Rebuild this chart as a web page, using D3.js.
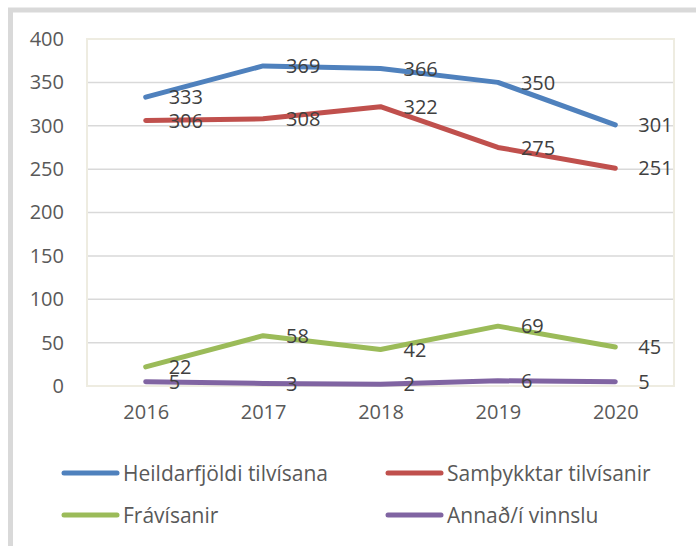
<!DOCTYPE html>
<html><head><meta charset="utf-8">
<script src="https://cdn.jsdelivr.net/npm/d3@7"></script>
<style>html,body{margin:0;padding:0;background:#fff;overflow:hidden}</style>
</head><body>
<svg id="c" width="696" height="546"></svg>
<script>
const years = ["2016","2017","2018","2019","2020"];
const heildar = [333,369,366,350,301];
const samthykktar = [306,308,322,275,251];
const fravisanir = [22,58,42,69,45];
const annad = [5,3,2,6,5];
const seriesNames = ["Heildarfjöldi tilvísana","Samþykktar tilvísanir","Frávísanir","Annað/í vinnslu"];
const yTicks = [0,50,100,150,200,250,300,350,400];
const colors = ["#4F81BD","#C0504D","#9BBB59","#8064A2"];
const series = [heildar, samthykktar, fravisanir, annad].map((v,i)=>({name:seriesNames[i], values:v, color:colors[i]}));

const svg = d3.select("#c");
const font = "'Open Sans', sans-serif";
// outer border
svg.append("rect").attr("x",10.5).attr("y",10).attr("width",720).attr("height",560)
  .attr("fill","none").attr("stroke","#d9d9d9").attr("stroke-width",5);

const L=87, R=674, T=39, B=386;
const x = d3.scalePoint().domain(years).range([L,R]).padding(0.5);
const y = d3.scaleLinear().domain([0,400]).range([B,T]);

// gridlines
svg.append("g").selectAll("line").data(yTicks.filter(t=>t>0 && t<400)).join("line")
  .attr("x1",L).attr("x2",R).attr("y1",d=>y(d)).attr("y2",d=>y(d))
  .attr("stroke","#d9d9d9").attr("stroke-width",1.5);
// plot border
svg.append("rect").attr("x",L).attr("y",T).attr("width",R-L).attr("height",B-T)
  .attr("fill","none").attr("stroke","#EEECE1").attr("stroke-width",2);

// y axis labels
const ya = svg.append("g").attr("transform",`translate(64,0)`)
  .call(d3.axisLeft(y).tickValues(yTicks).tickSize(0).tickPadding(0));
ya.select(".domain").remove();
ya.selectAll("text").attr("font-family",font).attr("font-size",20).attr("fill","#595959");

// x axis labels
const xa = svg.append("g").attr("transform",`translate(0,${B})`)
  .call(d3.axisBottom(x).tickSize(0).tickPadding(19));
xa.select(".domain").remove();
xa.selectAll("text").attr("font-family",font).attr("font-size",20).attr("fill","#595959");

const line = d3.line().x((d,i)=>x(years[i])).y(d=>y(d));
svg.append("g").selectAll("path").data(series).join("path")
  .attr("d",d=>line(d.values)).attr("fill","none").attr("stroke",d=>d.color)
  .attr("stroke-width",5).attr("stroke-linecap","round").attr("stroke-linejoin","round");

// data labels
const lg = svg.append("g");
series.forEach(s=>{
  lg.selectAll(null).data(s.values).join("text")
    .attr("x",(d,i)=>x(years[i])+23).attr("y",d=>y(d)).attr("dy","0.36em")
    .attr("font-family",font).attr("font-size",20).attr("fill","#404040").text(d=>d);
});

// legend
const legPos = [[62,473],[386,473],[62,515],[386,515]];
const leg = svg.append("g").selectAll("g").data(series).join("g")
  .attr("transform",(d,i)=>`translate(${legPos[i][0]},${legPos[i][1]})`);
leg.append("line").attr("x1",2).attr("x2",55).attr("stroke",d=>d.color).attr("stroke-width",5).attr("stroke-linecap","round");
leg.append("text").attr("x",61).attr("dy","0.36em").attr("font-family",font).attr("font-size",21)
  .attr("fill","#595959").text(d=>d.name);
</script>
</body></html>
